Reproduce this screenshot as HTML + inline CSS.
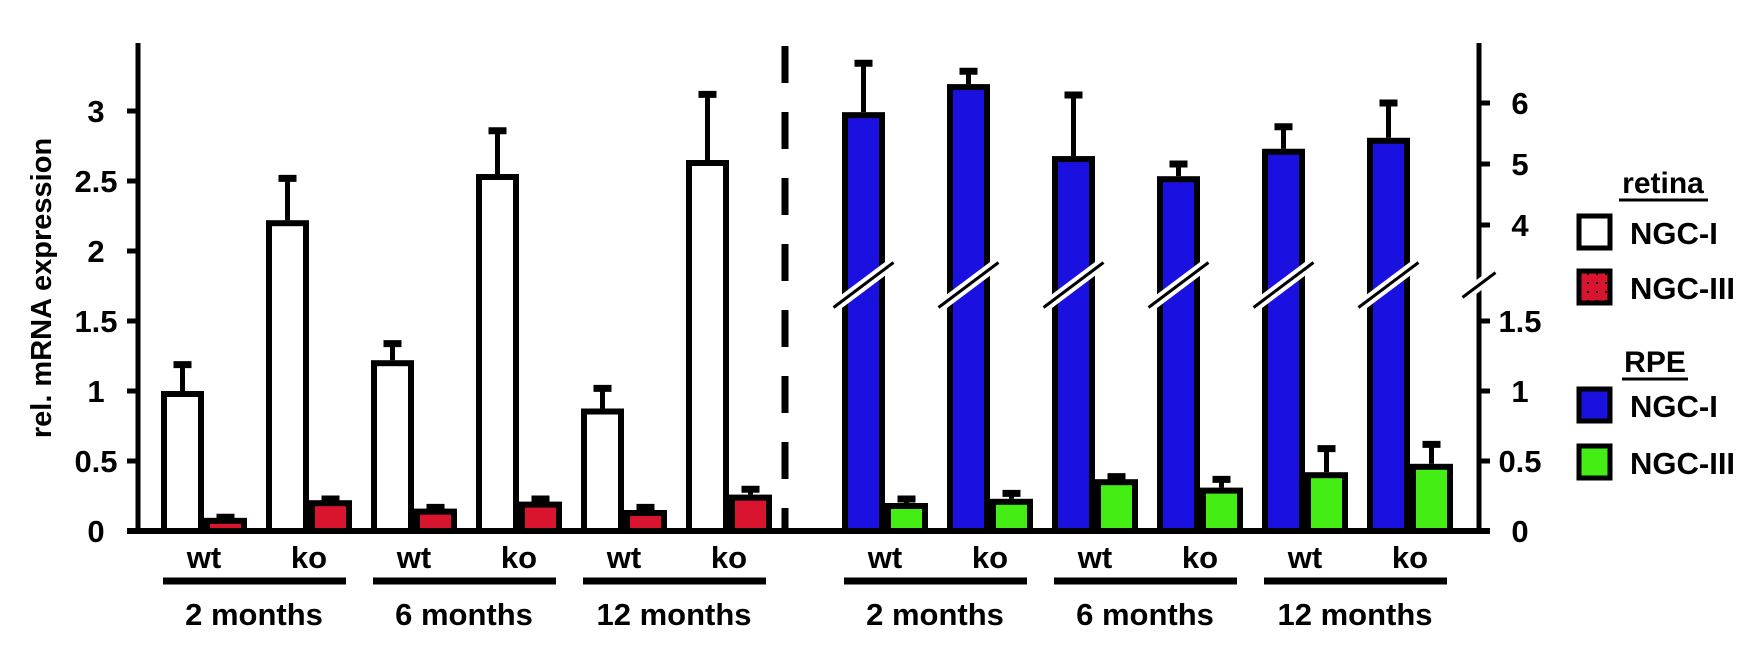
<!DOCTYPE html>
<html><head><meta charset="utf-8"><style>
html,body{margin:0;padding:0;background:#fff;}
svg text{font-family:"Liberation Sans",Arial,sans-serif;font-weight:bold;fill:#000;}
</style></head><body>
<svg id="chart" width="1748" height="654" viewBox="0 0 1748 654" xmlns="http://www.w3.org/2000/svg">
<defs>
<pattern id="dots" width="9" height="9" patternUnits="userSpaceOnUse">
<rect width="9" height="9" fill="#d9142f"/><rect x="3" y="3" width="2" height="2" fill="#000"/>
</pattern>
</defs>
<g id="g"></g>
</svg>
<script>
const groups = ['2 months','6 months','12 months'];
const genotypes = ['wt','ko','wt','ko','wt','ko'];
const retinaNGCI = [1.0, 2.22, 1.22, 2.55, 0.875, 2.65];
const retinaNGCIerr = [1.21, 2.54, 1.36, 2.88, 1.04, 3.14];
const retinaNGCIII = [0.094, 0.22, 0.16, 0.21, 0.15, 0.26];
const retinaNGCIIIerr = [0.12, 0.25, 0.19, 0.25, 0.19, 0.32];
const rpeNGCI = [5.85, 6.31, 5.13, 4.80, 5.25, 5.43];
const rpeNGCIerr = [6.70, 6.57, 6.18, 5.05, 5.66, 6.05];
const rpeNGCIII = [0.20, 0.23, 0.37, 0.31, 0.42, 0.48];
const rpeNGCIIIerr = [0.25, 0.29, 0.41, 0.39, 0.61, 0.64];
const leftTicks = [0, 0.5, 1, 1.5, 2, 2.5, 3];
const leftTickLabels = ['0','0.5','1','1.5','2','2.5','3'];
const rightLowTicks = [0, 0.5, 1, 1.5];
const rightLowLabels = ['0','0.5','1','1.5'];
const rightHighTicks = [4, 5, 6];
const rightHighLabels = ['4','5','6'];

const NS='http://www.w3.org/2000/svg';
const G=document.getElementById('g');
function mk(tag,attrs,parent){const e=document.createElementNS(NS,tag);for(const k in attrs)e.setAttribute(k,attrs[k]);(parent||G).appendChild(e);return e;}
const BASE=531, UNIT=140;
function yL(v){return BASE-UNIT*v;}
function yR(v){return v>=3 ? 225-61*(v-4) : BASE-UNIT*v;}
const BW=43;
function xLeft(i){return 161+i*105;}
function xRight(i){return 842+i*105;}

function bar(x,v,err,fill,yf,name){
  const top=yf(v), et=yf(err);
  const el=mk('line',{x1:x+BW/2,x2:x+BW/2,y1:top,y2:et,stroke:'#000','stroke-width':5});
  
  
  const cap=mk('line',{x1:x+BW/2-9,x2:x+BW/2+9,y1:et+3,y2:et+3,stroke:'#000','stroke-width':7});
  
  
  const r=mk('rect',{x:x+3,y:top+3,width:BW-6,height:BASE-top-3,fill:fill,stroke:'#000','stroke-width':6});
  
  
}
function slash(cx,cy,s,name){
  const w=mk('line',{x1:cx-28*s,y1:cy+21*s,x2:cx+28*s,y2:cy-21*s,stroke:'#fff','stroke-width':11});
  
  
  const b=mk('line',{x1:cx-30*s,y1:cy+22.5*s,x2:cx+30*s,y2:cy-22.5*s,stroke:'#000','stroke-width':3});
  
  
}
function txt(x,y,s,size,anchor,name){
  const t=mk('text',{x:x,y:y,'font-size':size,'text-anchor':anchor||'middle'});
  t.textContent=s;
  
  
  return t;
}

for(let i=0;i<6;i++){
  bar(xLeft(i),retinaNGCI[i],retinaNGCIerr[i],'#fff',yL,'retina-ngc1-bar-'+i);
  bar(xLeft(i)+BW,retinaNGCIII[i],retinaNGCIIIerr[i],'#d9142f',yL,'retina-ngc3-bar-'+i);
}
for(let i=0;i<6;i++){
  bar(xRight(i),rpeNGCI[i],rpeNGCIerr[i],'#1a10e0',yR,'rpe-ngc1-bar-'+i);
  slash(xRight(i)+BW/2,285,1,'bar-break-'+i);
  bar(xRight(i)+BW,rpeNGCIII[i],rpeNGCIIIerr[i],'#44ee14',yR,'rpe-ngc3-bar-'+i);
}
let a=mk('line',{x1:138,x2:138,y1:43,y2:534,stroke:'#000','stroke-width':5});


a=mk('line',{x1:127,x2:1490,y1:531,y2:531,stroke:'#000','stroke-width':6});


a=mk('line',{x1:1479,x2:1479,y1:43,y2:534,stroke:'#000','stroke-width':5});


slash(1479,285,0.55,'axis-break');
a=mk('line',{x1:785,x2:785,y1:46,y2:531,stroke:'#000','stroke-width':7,'stroke-dasharray':'37 29'});



leftTicks.forEach((v,i)=>{
  const t=mk('line',{x1:127,x2:138,y1:yL(v),y2:yL(v),stroke:'#000','stroke-width':5});
  
  
  txt(96,yL(v)+11,leftTickLabels[i],31,'middle','left-tick-label');
});
rightLowTicks.forEach((v,i)=>{
  const t=mk('line',{x1:1479,x2:1490,y1:yR(v),y2:yR(v),stroke:'#000','stroke-width':5});
  
  
  txt(1520,yR(v)+11,rightLowLabels[i],31,'middle','right-tick-label');
});
rightHighTicks.forEach((v,i)=>{
  const t=mk('line',{x1:1479,x2:1490,y1:yR(v),y2:yR(v),stroke:'#000','stroke-width':5});
  
  
  txt(1520,yR(v)+11,rightHighLabels[i],31,'middle','right-tick-label');
});
for(let i=0;i<6;i++){
  txt(xLeft(i)+BW,568,genotypes[i],31,'middle','genotype-label');
  txt(xRight(i)+BW,568,genotypes[i],31,'middle','genotype-label');
}
for(let g=0;g<3;g++){
  [xLeft(g*2), xRight(g*2)].forEach(x0=>{
    const l=mk('line',{x1:x0+2,x2:x0+185,y1:581,y2:581,stroke:'#000','stroke-width':7});
    
    
    txt(x0+93,625,groups[g],31,'middle','group-label');
  });
}
const yt=txt(0,0,'rel. mRNA expression',29,'middle','y-axis-title');
yt.setAttribute('transform','translate(51,288) rotate(-90)');

txt(1663,193,'retina',30,'middle','legend-retina-title');
let u=mk('line',{x1:1619,x2:1708,y1:200,y2:200,stroke:'#000','stroke-width':3});


txt(1655,372,'RPE',30,'middle','legend-rpe-title');
u=mk('line',{x1:1622,x2:1688,y1:379,y2:379,stroke:'#000','stroke-width':3});


const leg=[['#fff',232,'NGC-I','legend-retina-ngc1'],['url(#dots)',287,'NGC-III','legend-retina-ngc3'],['#1a10e0',405,'NGC-I','legend-rpe-ngc1'],['#44ee14',462,'NGC-III','legend-rpe-ngc3']];
leg.forEach(l=>{
  const r=mk('rect',{x:1579,y:l[1]-16,width:31,height:32,fill:l[0],stroke:'#000','stroke-width':5});
  
  
  txt(1630,l[1]+12,l[2],31,'start',l[3]+'-label');
});
</script>
</body></html>
